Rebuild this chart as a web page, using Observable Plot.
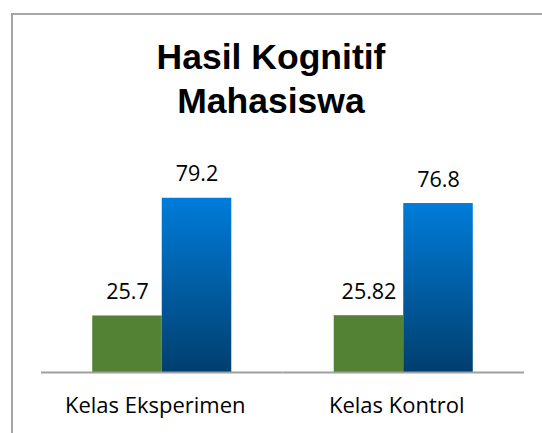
<!DOCTYPE html>
<html><head><meta charset="utf-8">
<script src="https://cdn.jsdelivr.net/npm/d3@7"></script>
<script src="https://cdn.jsdelivr.net/npm/@observablehq/plot@0.6"></script>
<style>
body{margin:0;background:#fff;}
#wrap{position:relative;width:542px;height:433px;overflow:hidden;background:#fff;}
#frame{position:absolute;left:11px;top:13px;width:600px;height:500px;border:2px solid #a6a6a6;box-sizing:border-box;}
#title{position:absolute;left:0;width:542px;top:35px;text-align:center;font-family:"Liberation Sans",Arial,sans-serif;font-weight:bold;font-size:35.5px;line-height:44px;color:#000;margin:0;z-index:2;}
#chart{position:absolute;left:0;top:0;z-index:1;}
</style></head>
<body>
<div id="wrap">
  <div id="frame"></div>
  <h2 id="title">Hasil Kognitif<br>Mahasiswa</h2>
  <div id="chart"></div>
</div>
<script>
const categories = ["Kelas Eksperimen", "Kelas Kontrol"];
const series = ["Pretest", "Posttest"];
const pretest = [25.7, 25.82];
const posttest = [79.2, 76.8];

const data = [];
categories.forEach((c, i) => {
  data.push({cat: c, series: series[0], value: pretest[i]});
  data.push({cat: c, series: series[1], value: posttest[i]});
});

const svg = Plot.plot({
  width: 542,
  height: 433,
  marginLeft: 41,
  marginRight: 18,
  marginTop: 174,
  marginBottom: 61,
  style: {background: "transparent", fontFamily: "'Open Sans', sans-serif", color: "#000"},
  fx: {domain: categories, paddingInner: 0, paddingOuter: 0, round: false, label: null},
  x: {domain: series, paddingInner: 0, paddingOuter: 0.737, round: false, axis: null},
  y: {domain: [0, 90], axis: null},
  marks: [
    Plot.barY(data.filter(d => d.series === series[0]), {fx: "cat", x: "series", y: "value", fill: "#548235"}),
    Plot.barY(data.filter(d => d.series === series[1]), {fx: "cat", x: "series", y: "value", fill: "url(#blueGrad)"}),
    Plot.ruleY([0], {stroke: "#a0a0a0", strokeWidth: 2}),
    Plot.text(data, {fx: "cat", x: "series", y: "value", text: d => String(d.value), lineAnchor: "bottom", dy: -17, fontSize: 21.5, fill: "#000"}),
    Plot.axisFx({anchor: "bottom", tickSize: 0, tickPadding: 25, fontSize: 22, label: null, dx: -7, fill: "#000"})
  ]
});

const defs = d3.select(svg).insert("defs", ":first-child");
const g = defs.append("linearGradient").attr("id", "blueGrad").attr("x1", 0).attr("y1", 0).attr("x2", 0).attr("y2", 1);
g.append("stop").attr("offset", "0%").attr("stop-color", "#007cda");
g.append("stop").attr("offset", "100%").attr("stop-color", "#003f6e");

document.getElementById("chart").appendChild(svg);
</script>
</body></html>
